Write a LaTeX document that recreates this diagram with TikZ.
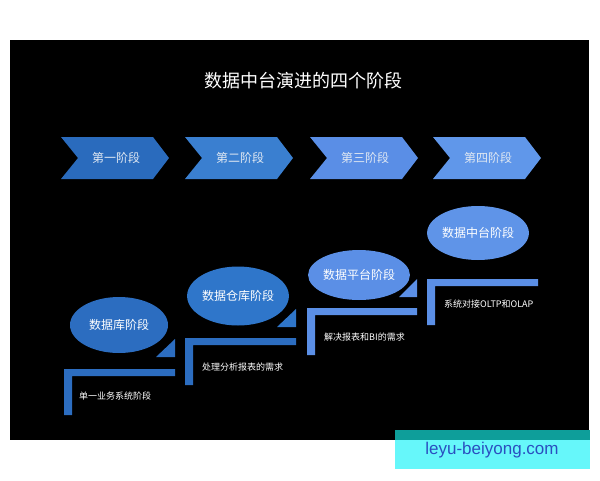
\documentclass[tikz,border=0pt]{standalone}
\usepackage{fontspec}
\setmainfont{Noto Sans CJK SC}
\newfontfamily\wmfont{Liberation Sans}
\usetikzlibrary{shapes.geometric}
\definecolor{cA}{HTML}{2A6BBD}
\definecolor{cB}{HTML}{3A7FD0}
\definecolor{cC}{HTML}{5A8EE6}
\definecolor{cD}{HTML}{6097EA}
\definecolor{eA}{HTML}{2C6DC0}
\definecolor{eB}{HTML}{2F76CA}
\definecolor{eC}{HTML}{5B8FE6}
\definecolor{eD}{HTML}{5F94E8}
\definecolor{txt}{HTML}{E0E8F2}
\definecolor{wmteal}{HTML}{0E9E9A}
\definecolor{wmcyan}{HTML}{66F7FA}
\definecolor{wmblue}{HTML}{2A4FC0}
\tikzset{
  chevtext/.style={font=\fontsize{12}{14}\selectfont, text=txt, inner sep=0pt},
  bubble/.style={ellipse, inner sep=0pt, draw=none, font=\fontsize{12}{14}\selectfont, text=white},
  desc/.style={anchor=west, font=\fontsize{9}{11}\selectfont, text=white, inner sep=0pt},
}
\begin{document}
\begin{tikzpicture}[x=1pt,y=-1pt]
\useasboundingbox (0,0) rectangle (600,480);
\fill[white] (0,0) rectangle (600,480);
\fill[black] (10,40) rectangle (589,440);

% title
\node[font=\fontsize{18}{20}\selectfont, text=white, inner sep=0pt] (title) at (303,81) {数据中台演进的四个阶段};

% chevrons
\foreach \x/\c/\t/\n in {61/cA/第一阶段/c1, 185/cB/第二阶段/c2, 310/cC/第三阶段/c3, 433/cD/第四阶段/c4}{
  \fill[\c] (\x,137) -- (\x+92,137) -- (\x+108,158) -- (\x+92,179) -- (\x,179) -- (\x+17,158) -- cycle;
  \node[chevtext] (\n) at (\x+55,158) {\t};
}

% bubbles
\node[bubble, fill=eA, minimum width=98pt, minimum height=56pt] (e1) at (119,325) {数据库阶段};
\node[bubble, fill=eB, minimum width=97pt, minimum height=59pt] (e2) at (238,296) {数据仓库阶段};
\node[bubble, fill=eC, minimum width=94pt, minimum height=50pt] (e3) at (359,275) {数据平台阶段};
\node[bubble, fill=eD, minimum width=94pt, minimum height=54pt] (e4) at (478,233) {数据中台阶段};

% triangles
\fill[eA] (156,357) -- (175,357) -- (175,339) -- cycle;
\fill[eB] (277,327) -- (296,327) -- (296,309) -- cycle;
\fill[eC] (399,297) -- (417,297) -- (417,279) -- cycle;

% brackets
\foreach \a/\b/\y/\yb/\c in {64/175/369/415/eA, 185/296/338/385/eA, 307/417/308/355/eC, 427/538/279/325/eC}{
  \fill[\c] (\a,\y) -- (\b,\y) -- (\b,\y+7) -- (\a+8,\y+7) -- (\a+8,\yb) -- (\a,\yb) -- cycle;
}

% descriptions
\node[desc] (d1) at (79,396) {单一业务系统阶段};
\node[desc] (d2) at (202,367) {处理分析报表的需求};
\node[desc] (d3) at (324,337) {解决报表和BI的需求};
\node[desc] (d4) at (444,304) {系统对接OLTP和OLAP};

% watermark
\fill[wmteal] (395,430) rectangle (590,440);
\fill[wmcyan] (395,440) rectangle (590,469);
\node[font=\wmfont\fontsize{17}{19}\selectfont, text=wmblue, inner sep=0pt] (wm) at (492,450) {leyu-beiyong.com};
\end{tikzpicture}
\end{document}
